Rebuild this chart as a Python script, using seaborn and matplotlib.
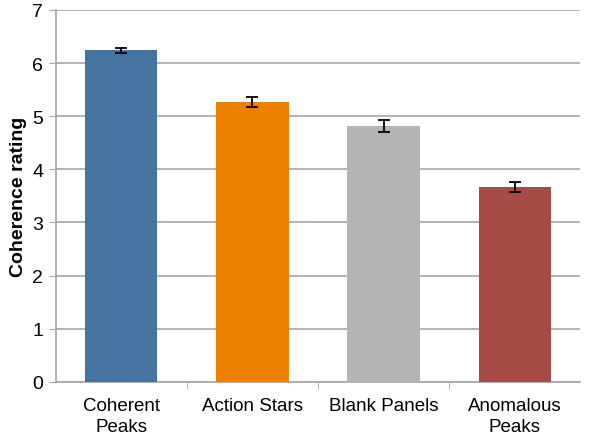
import matplotlib
matplotlib.use("Agg")
import matplotlib.pyplot as plt
import numpy as np
import pandas as pd
import seaborn as sns

conditions = ["Coherent\nPeaks", "Action Stars", "Blank Panels", "Anomalous\nPeaks"]
ratings = [6.24, 5.27, 4.82, 3.67]
errors = [0.05, 0.09, 0.11, 0.10]
colors = ["#4674A1", "#EE8000", "#B4B4B4", "#A64B45"]

sns.set_style("white")
plt.rcParams['font.family'] = ['Liberation Sans', 'DejaVu Sans']

df = pd.DataFrame({"condition": conditions, "rating": ratings})

fig = plt.figure(figsize=(6, 4.39), dpi=100)
ax = fig.add_axes([0.093, 0.128, 0.874, 0.847])

ax.grid(True, axis="y", color="#a6a6a6", linewidth=1.2, zorder=0)
sns.barplot(data=df, x="condition", y="rating", hue="condition", palette=colors,
            width=0.55, legend=False, ax=ax, zorder=3, saturation=1, linewidth=0)
ax.errorbar(np.arange(len(ratings)), ratings, yerr=errors, fmt="none",
            ecolor="black", elinewidth=1.3, capsize=4, capthick=1.3, zorder=4)

ax.set_ylim(0, 7)
ax.set_xlim(-0.5, len(conditions) - 0.5)
ax.set_yticks(range(0, 8))
ax.tick_params(axis="y", labelsize=14, labelcolor="black", length=5, color="#a6a6a6", left=True, pad=4)
ax.tick_params(axis="x", which="major", labelsize=13.5, labelcolor="black", length=0, pad=11)
ax.set_xticks(np.arange(0.5, len(conditions) - 1, 1), minor=True)
ax.tick_params(axis="x", which="minor", length=5, color="#a6a6a6", bottom=True)
for lbl in ax.get_xticklabels():
    lbl.set_linespacing(1.3)

for side in ["top", "right"]:
    ax.spines[side].set_visible(False)
for side in ["left", "bottom"]:
    ax.spines[side].set_color("#a6a6a6")
    ax.spines[side].set_linewidth(1.2)

ax.set_xlabel(None)
ax.set_ylabel("Coherence rating", fontsize=14, fontweight="bold", color="black", labelpad=4)

plt.savefig("out.png", dpi=100)
